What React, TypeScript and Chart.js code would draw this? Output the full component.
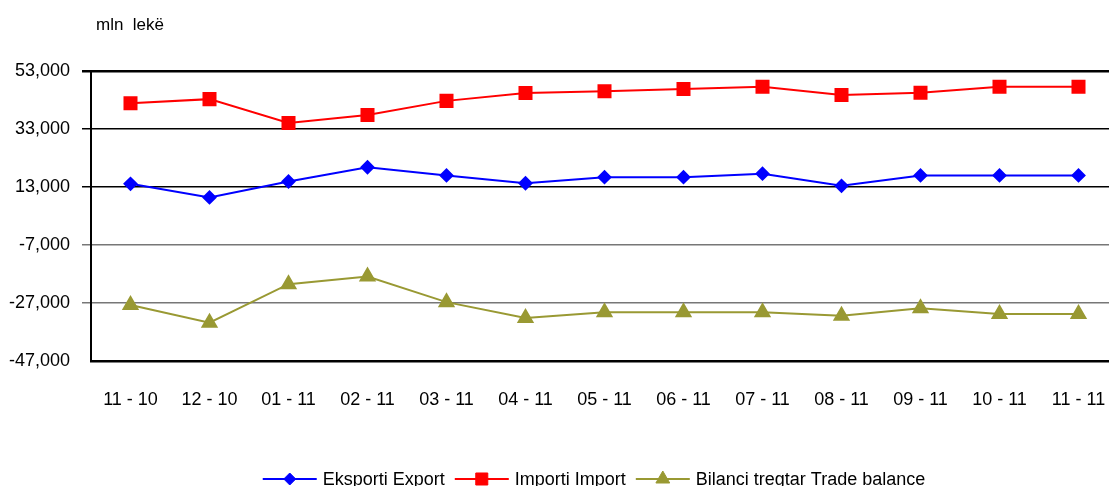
import React, { useEffect, useRef } from "react";
import { Chart, registerables } from "chart.js";
import { drawPoint } from "chart.js/helpers";

Chart.register(...registerables);

const FONT = '"Liberation Sans", Arial, sans-serif';

const categories = ["11 - 10", "12 - 10", "01 - 11", "02 - 11", "03 - 11", "04 - 11", "05 - 11", "06 - 11", "07 - 11", "08 - 11", "09 - 11", "10 - 11", "11 - 11"];
const exportValues = [14100, 9400, 14900, 19800, 17000, 14300, 16400, 16400, 17600, 13400, 17000, 17000, 17000];
const importValues = [41900, 43300, 35100, 37800, 42700, 45400, 46000, 46800, 47600, 44700, 45500, 47600, 47600];
const balanceValues = [-27700, -33800, -20500, -17900, -26700, -32200, -30200, -30200, -30200, -31400, -28800, -30800, -30800];
const yTicks = [-47000, -27000, -7000, 13000, 33000, 53000];
const seriesNames = ["Eksporti Export", "Importi Import", "Bilanci tregtar Trade balance"];
const unitLabel = "mln  lekë";

const overlayPlugin = {
  id: "overlay",
  afterDraw(chart: any) {
    const ctx = chart.ctx;
    ctx.save();
    // unit label
    ctx.fillStyle = "#000";
    ctx.font = `17px ${FONT}`;
    ctx.textAlign = "left";
    ctx.textBaseline = "alphabetic";
    ctx.fillText(unitLabel, 96, 30);

    // legend
    ctx.font = `18px ${FONT}`;
    const lineLen = 54;
    const gapText = 6;
    const gapItem = 10;
    const widths = seriesNames.map((n) => ctx.measureText(n).width);
    const total = widths.reduce((a, w) => a + lineLen + gapText + w, 0) + gapItem * (seriesNames.length - 1);
    let x = 594 - total / 2;
    const y = 479;
    chart.data.datasets.forEach((ds: any, i: number) => {
      ctx.strokeStyle = ds.borderColor;
      ctx.lineWidth = 2;
      ctx.beginPath();
      ctx.moveTo(x, y);
      ctx.lineTo(x + lineLen, y);
      ctx.stroke();
      ctx.fillStyle = ds.pointBackgroundColor;
      ctx.strokeStyle = ds.pointBorderColor;
      ctx.lineWidth = 1;
      drawPoint(ctx, { pointStyle: ds.pointStyle, radius: ds.pointRadius, rotation: 0, borderWidth: 1 } as any, x + lineLen / 2, y);
      ctx.fillStyle = "#000";
      ctx.textBaseline = "middle";
      ctx.fillText(seriesNames[i], x + lineLen + gapText, y + 1);
      x += lineLen + gapText + widths[i] + gapItem;
    });
    ctx.restore();
  },
};

export default function App() {
  const ref = useRef<HTMLCanvasElement | null>(null);

  useEffect(() => {
    if (!ref.current) return;
    const chart = new Chart(ref.current, {
      type: "line",
      data: {
        labels: categories,
        datasets: [
          {
            label: seriesNames[0],
            data: exportValues,
            borderColor: "#0000FF",
            backgroundColor: "#0000FF",
            pointBackgroundColor: "#0000FF",
            pointBorderColor: "#0000FF",
            pointStyle: "rectRot",
            pointRadius: 6,
            borderWidth: 2,
            tension: 0,
          },
          {
            label: seriesNames[1],
            data: importValues,
            borderColor: "#FF0000",
            backgroundColor: "#FF0000",
            pointBackgroundColor: "#FF0000",
            pointBorderColor: "#FF0000",
            pointStyle: "rect",
            pointRadius: 8.5,
            borderWidth: 2,
            tension: 0,
          },
          {
            label: seriesNames[2],
            data: balanceValues,
            borderColor: "#999933",
            backgroundColor: "#999933",
            pointBackgroundColor: "#999933",
            pointBorderColor: "#999933",
            pointStyle: "triangle",
            pointRadius: 8,
            borderWidth: 2,
            tension: 0,
          },
        ],
      },
      options: {
        responsive: false,
        animation: false,
        layout: { padding: { top: 71, left: 0, right: 22, bottom: 0 } },
        plugins: {
          legend: { display: false },
          tooltip: { enabled: false },
          title: { display: false },
        },
        scales: {
          x: {
            type: "category",
            offset: true,
            grid: { display: false, drawTicks: false },
            border: { display: true, color: "#000", width: 2.5 },
            ticks: {
              color: "#000",
              font: { family: FONT, size: 18 },
              padding: 28,
              maxRotation: 0,
              autoSkip: false,
            },
            afterFit(scale: any) {
              scale.height = 125;
            },
          },
          y: {
            min: yTicks[0],
            max: yTicks[yTicks.length - 1],
            afterBuildTicks(scale: any) {
              scale.ticks = yTicks.map((v) => ({ value: v }));
            },
            afterFit(scale: any) {
              scale.width = 91;
            },
            grid: {
              drawTicks: true,
              tickLength: 9,
              color: (c: any) => (c.tick && c.tick.value >= 13000 ? "#000" : "#777"),
              lineWidth: (c: any) => (c.tick && c.tick.value === 53000 ? 2.5 : c.tick && c.tick.value === -47000 ? 0 : 1.5),
            },
            border: { display: true, color: "#000", width: 2 },
            ticks: {
              color: "#000",
              font: { family: FONT, size: 18 },
              padding: 12,
              callback: (v: any) => Number(v).toLocaleString("en-US"),
            },
          },
        },
      },
      plugins: [overlayPlugin],
    });
    return () => chart.destroy();
  }, []);

  return (
    <div
      style={{
        position: "fixed",
        left: 0,
        top: 0,
        width: 1109,
        height: 486,
        overflow: "hidden",
        background: "#fff",
      }}
    >
      <canvas ref={ref} width={1140} height={486} style={{ display: "block" }} />
    </div>
  );
}
